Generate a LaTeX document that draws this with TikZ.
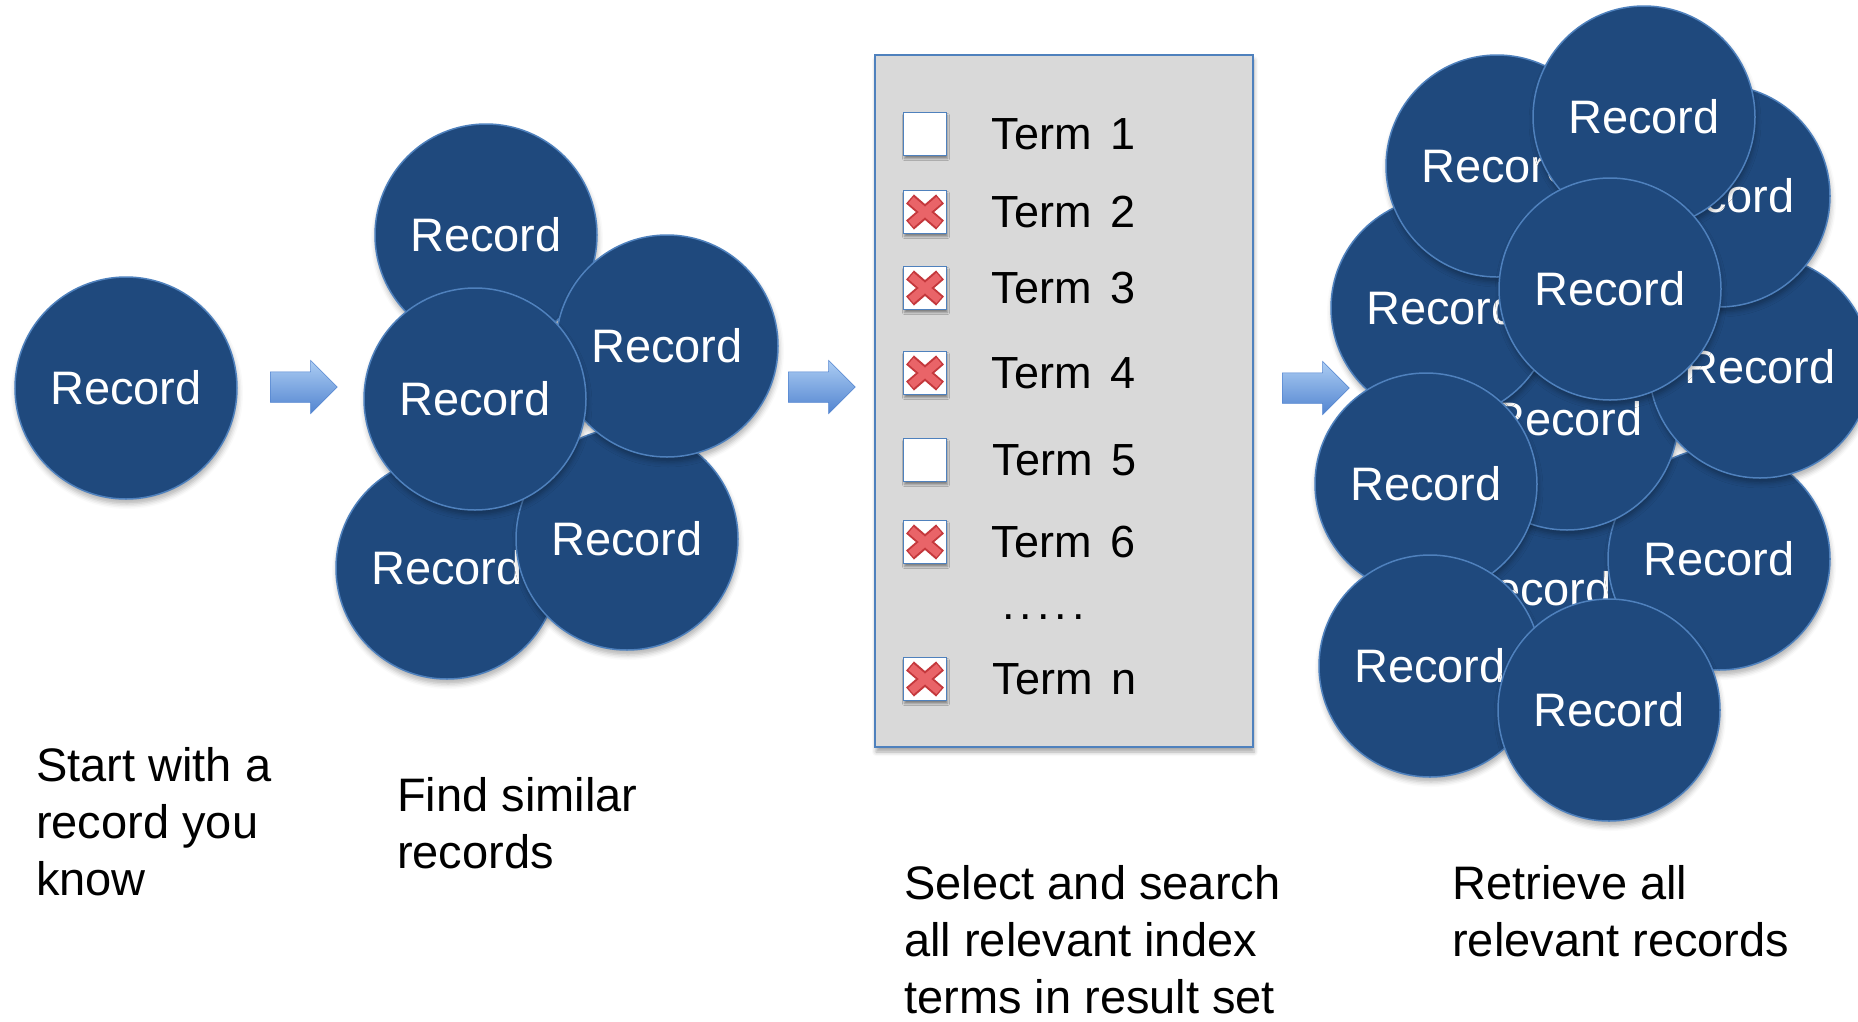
\documentclass[tikz,border=0pt]{standalone}
\usepackage{fontspec}
\setmainfont{Liberation Sans}
\usetikzlibrary{positioning, shapes.arrows, shadows.blur}
\definecolor{recfill}{RGB}{31,73,125}
\definecolor{recedge}{RGB}{79,129,189}
\definecolor{panelgray}{RGB}{217,217,217}
\definecolor{arrowtop}{RGB}{172,205,243}
\definecolor{arrowbot}{RGB}{82,132,208}
\definecolor{crosslight}{RGB}{233,100,104}
\definecolor{crossdark}{RGB}{196,56,60}
\tikzset{
record/.style={circle, draw=recedge, line width=1.5pt, fill=recfill, text=white, minimum size=222pt, inner sep=0pt, font=\fontsize{47}{56}\selectfont, blur shadow={shadow xshift=1pt, shadow yshift=-5pt, shadow blur radius=5pt, shadow opacity=30}}, % one record bubble
flowarrow/.style={single arrow, anchor=tail, single arrow head extend=11.5pt, minimum height=67pt, inner xsep=0pt, inner ysep=15pt, top color=arrowtop, bottom color=arrowbot, draw=arrowbot, line width=0.5pt}, % blue block arrow between steps
listpanel/.style={rectangle, fill=panelgray, draw=recedge, line width=1.5pt, blur shadow={shadow xshift=1pt, shadow yshift=-5pt, shadow blur radius=4pt, shadow opacity=35}}, % grey box of terms
checkbox/.style={rectangle, draw=recedge, line width=1.5pt, fill=white, minimum size=43pt, inner sep=0pt, outer sep=0pt, blur shadow={shadow xshift=1pt, shadow yshift=-3pt, shadow blur radius=2pt, shadow opacity=40}}, % tick box
term/.style={anchor=west, inner sep=0pt, font=\fontsize{45}{52}\selectfont}, % term label
caption/.style={anchor=base west, align=left, inner sep=0pt, font=\fontsize{47}{57}\selectfont}, % step text, placed at its last baseline
}
\newcommand{\crossout}[1]{%
  \draw[crossdark, line width=12pt] ([shift={(-15pt,-13pt)}]#1.center) -- ([shift={(15pt,13pt)}]#1.center);
  \draw[crossdark, line width=12pt] ([shift={(-15pt,13pt)}]#1.center) -- ([shift={(15pt,-13pt)}]#1.center);
  \draw[crosslight, line width=8pt] ([shift={(-14pt,-12pt)}]#1.center) -- ([shift={(14pt,12pt)}]#1.center);
  \draw[crosslight, line width=8pt] ([shift={(-14pt,12pt)}]#1.center) -- ([shift={(14pt,-12pt)}]#1.center);
}
\begin{document}
\begin{tikzpicture}[x=1pt, y=-1pt]
\useasboundingbox (0,0) rectangle (1858,1021);

\node[record] (known) at (126,388) {Record};
\node[flowarrow] (step1) at (270,387) {};

\node[record] (sim4) at (447,568) {Record};
\node[record] (sim5) at (627,539) {Record};
\node[record] (sim1) at (486,235) {Record};
\node[record] (sim2) at (667,346) {Record};
\node[record] (sim3) at (475,399) {Record};
\node[flowarrow] (step2) at (788,387) {};

\node[listpanel, minimum width=378pt, minimum height=692pt] (list) at (1064,401) {};
\node[checkbox] (b1) at (925,134) {};
\node[checkbox] (b2) at (925,212) {};
\node[checkbox] (b3) at (925,288) {};
\node[checkbox] (b4) at (925,373) {};
\node[checkbox] (b5) at (925,460) {};
\node[checkbox] (b6) at (925,542) {};
\node[checkbox] (bn) at (925,679) {};
\crossout{b2}
\crossout{b3}
\crossout{b4}
\crossout{b6}
\crossout{bn}
\node[term, right=45pt of b1] (t1) {Term\hspace{6pt} 1};
\node[term, right=45pt of b2] (t2) {Term\hspace{6pt} 2};
\node[term, right=45pt of b3] (t3) {Term\hspace{6pt} 3};
\node[term, right=45pt of b4] (t4) {Term\hspace{6pt} 4};
\node[term, right=46pt of b5] (t5) {Term\hspace{6pt} 5};
\node[term, right=45pt of b6] (t6) {Term\hspace{6pt} 6};
\node[term, right=46pt of bn] (tn) {Term\hspace{6pt} n};
\node[term, anchor=base west] (dots) at (1002,619) {.\kern5pt.\kern5pt.\kern5pt.\kern5pt.};
\node[flowarrow] (step3) at (1282,388) {};

\node[record] (all1) at (1536,589) {Record};
\node[record] (all2) at (1719,559) {Record};
\node[record] (all3) at (1567,419) {Record};
\node[record] (all4) at (1760,367) {Record};
\node[record] (all5) at (1719,196) {Record};
\node[record] (all6) at (1442,308) {Record};
\node[record] (all7) at (1497,166) {Record};
\node[record] (all8) at (1644,117) {Record};
\node[record] (all9) at (1610,289) {Record};
\node[record] (all10) at (1426,484) {Record};
\node[record] (all11) at (1430,666) {Record};
\node[record] (all12) at (1609,710) {Record};

\node[caption] (cap1) at (36,895) {Start with a\\record you\\know};
\node[caption] (cap2) at (397,868) {Find similar\\records};
\node[caption] (cap3) at (904,1013) {Select and search\\all relevant index\\terms in result set};
\node[caption] (cap4) at (1452,956) {Retrieve all\\relevant records};
\end{tikzpicture}
\end{document}
